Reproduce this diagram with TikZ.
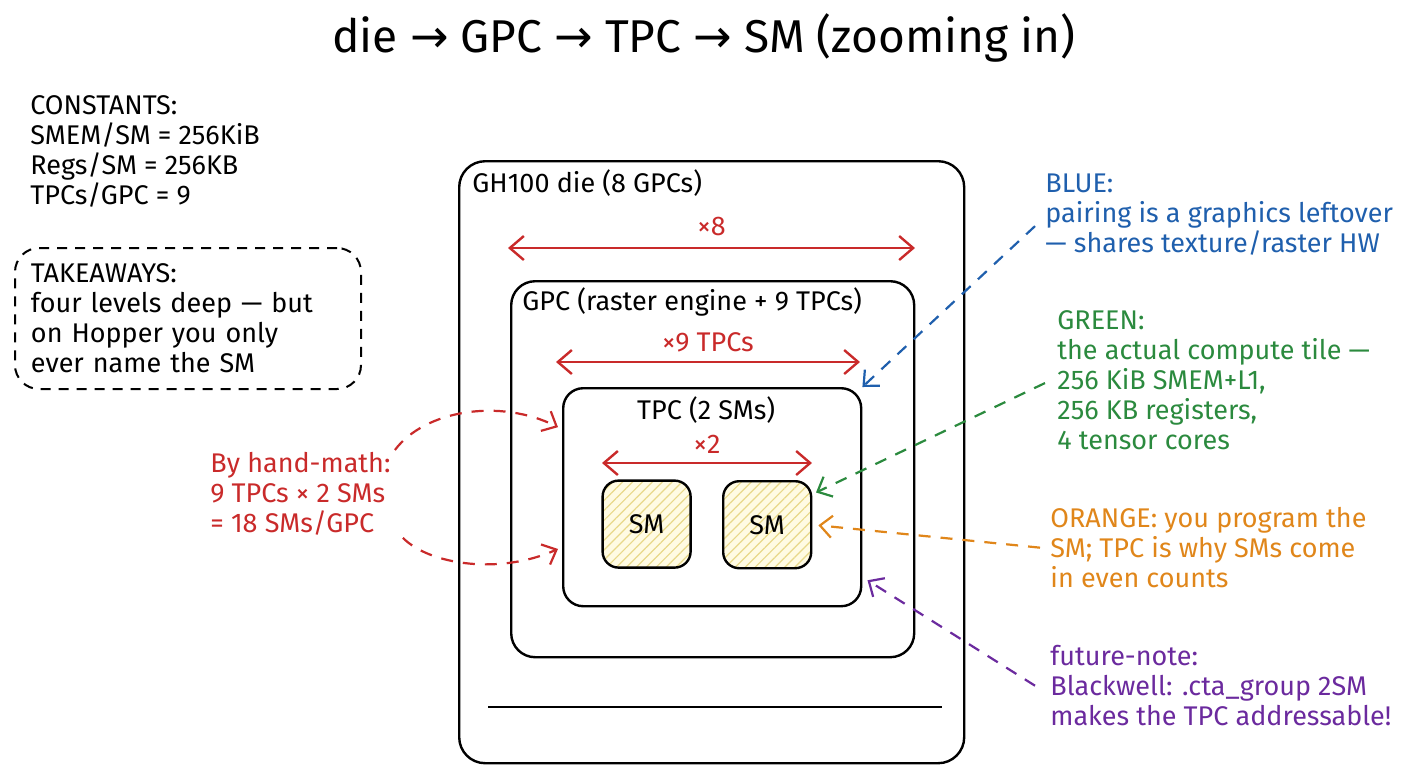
\documentclass[tikz,border=0pt]{standalone}
\usepackage{fontspec}
\setmainfont{Fira Sans}
\newfontfamily\arrowfont{DejaVu Sans}
\usetikzlibrary{positioning,arrows.meta,patterns.meta}

\definecolor{sketchred}{HTML}{C92A2A}
\definecolor{sketchblue}{HTML}{1F5FAD}
\definecolor{sketchgreen}{HTML}{2B8A3E}
\definecolor{sketchorange}{HTML}{E0861A}
\definecolor{sketchpurple}{HTML}{6B2A9E}
\definecolor{smfill}{HTML}{FFFBE3}
\definecolor{smhatch}{HTML}{E8D889}

\newcommand{\notefont}{\fontsize{13.5}{15}\selectfont}
\newcommand{\titlefont}{\fontsize{23}{27}\selectfont}
\newcommand{\zoomarrow}{{\arrowfont →}}

\begin{document}
\begin{tikzpicture}[
    x=0.5pt, y=-0.5pt,
    box/.style={draw, line width=1.2pt, rounded corners=12pt, inner sep=0pt, anchor=north west},
    smbox/.style={draw, line width=1.2pt, rounded corners=8pt, minimum width=44pt, minimum height=43.5pt,
        preaction={fill=smfill}, pattern={Lines[angle=45,distance=3.5pt,line width=0.6pt]}, pattern color=smhatch, font=\notefont},
    note/.style={align=left, inner sep=0pt, anchor=north west, font=\notefont},
    span/.style={draw=sketchred, line width=1.2pt, {Straight Barb[length=7pt,width=12pt]}-{Straight Barb[length=7pt,width=12pt]}},
    callout/.style={line width=1.1pt, dash pattern=on 6pt off 5pt, -{Straight Barb[length=6pt,width=11pt]}},
  ]
  \useasboundingbox (0,0) rectangle (1408,768);

  \node[font=\titlefont] (title) at (704,38) {die \zoomarrow{} GPC \zoomarrow{} TPC \zoomarrow{} SM (zooming in)};

  % nested boxes
  \node[box, rounded corners=13pt, minimum width=252.5pt, minimum height=301pt] (die) at (458,160) {};
  \node[box, minimum width=201.5pt, minimum height=188pt] (gpc) at (510,280) {};
  \node[box, rounded corners=10pt, minimum width=149pt, minimum height=109pt] (tpc) at (562,387) {};
  \node[smbox, anchor=north west] (smleft) at (602,480) {SM};
  \node[smbox, anchor=north west] (smright) at (722,480) {SM};

  \node[note, anchor=west] (dielabel) at ([shift={(14,23)}]die.north west) {GH100 die (8 GPCs)};
  \node[note, anchor=west] (gpclabel) at ([shift={(12,22)}]gpc.north west) {GPC (raster engine + 9 TPCs)};
  \node[note, anchor=center] (tpclabel) at ([shift={(-6,23)}]tpc.north) {TPC (2 SMs)};
  \draw[line width=1pt] ([shift={(30,-57)}]die.south west) -- ([shift={(-23,-57)}]die.south east);

  % repeat spans
  \coordinate (dieleft) at (508,248);
  \coordinate (dieright) at (915,248);
  \coordinate (gpcleft) at (556,362);
  \coordinate (gpcright) at (860,362);
  \coordinate (tpcleft) at (602,463);
  \coordinate (tpcright) at (812,463);
  \draw[span] (dieleft) -- (dieright) node[midway, above=2pt, text=sketchred, font=\notefont] (diecount) {×8};
  \draw[span] (gpcleft) -- (gpcright) node[midway, above=1pt, text=sketchred, font=\notefont] (gpccount) {×9 TPCs};
  \draw[span] (tpcleft) -- (tpcright) node[midway, above=1pt, text=sketchred, font=\notefont] (tpccount) {×2};

  % left notes
  \node[note] (constants) at (30,95) {CONSTANTS:\\SMEM/SM = 256KiB\\Regs/SM = 256KB\\TPCs/GPC = 9};
  \node[note, draw, line width=1pt, dash pattern=on 5pt off 4pt, rounded corners=12pt, inner xsep=8pt, inner ysep=7pt,
        text width=157pt, minimum height=70.5pt] (takeaways) at (14,247)
        {TAKEAWAYS:\\four levels deep — but\\on Hopper you only\\ever name the SM};
  \node[note, text=sketchred] (handmath) at (210,452) {By hand-math:\\9 TPCs × 2 SMs\\= 18 SMs/GPC};

  % right notes
  \node[note, text=sketchblue] (bluenote) at (1045,173) {BLUE:\\pairing is a graphics leftover\\— shares texture/raster HW};
  \node[note, text=sketchgreen] (greennote) at (1057,310) {GREEN:\\the actual compute tile —\\256 KiB SMEM+L1,\\256 KB registers,\\4 tensor cores};
  \node[note, text=sketchorange] (orangenote) at (1050,507) {ORANGE: you program the\\SM; TPC is why SMs come\\in even counts};
  \node[note, text=sketchpurple] (purplenote) at (1050,645) {future-note:\\Blackwell: .cta\_group 2SM\\makes the TPC addressable!};

  % callouts
  \draw[callout, sketchred] ([shift={(4,-2)}]handmath.north east) .. controls (425,410) and (500,398) .. ([shift={(-4,0)}]tpc.155);
  \draw[callout, sketchred] ([shift={(12,2)}]handmath.south east) .. controls (430,565) and (500,575) .. ([shift={(-4,0)}]tpc.199);
  \draw[callout, sketchblue] ([shift={(-10,12)}]bluenote.west) -- (tpc.north east);
  \draw[callout, sketchgreen, shorten >=2pt] ([shift={(-12,3)}]greennote.west) -- (smright.34);
  \draw[callout, sketchorange, shorten >=3pt] ([shift={(-10,0)}]orangenote.west) -- (smright.east);
  \draw[callout, sketchpurple, shorten >=3pt] ([shift={(-15,0)}]purplenote.west) -- (tpc.-28);
\end{tikzpicture}
\end{document}
